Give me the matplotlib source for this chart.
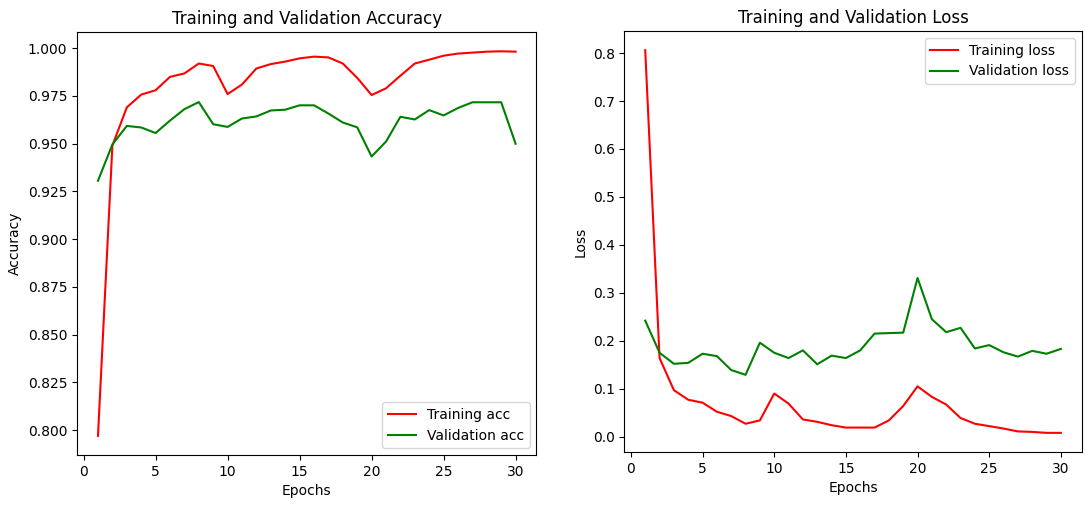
import matplotlib
matplotlib.use('Agg')
import matplotlib.pyplot as plt

# epochs 1..30
epochs = list(range(1, 31))

train_acc = [0.797, 0.949, 0.969, 0.9757, 0.978, 0.985, 0.9868, 0.992, 0.9907, 0.976,
             0.981, 0.9894, 0.9917, 0.993, 0.9947, 0.9956, 0.9952, 0.992, 0.9845, 0.9755,
             0.979, 0.9856, 0.992, 0.994, 0.9961, 0.9972, 0.9977, 0.9982, 0.9984, 0.9982]
val_acc = [0.9306, 0.9496, 0.9593, 0.9585, 0.9556, 0.9621, 0.9681, 0.9718, 0.9602, 0.9588,
           0.9632, 0.9643, 0.9674, 0.9678, 0.9701, 0.9701, 0.9658, 0.9611, 0.9586, 0.9433,
           0.9511, 0.9641, 0.9627, 0.9676, 0.9648, 0.9687, 0.9717, 0.9717, 0.9717, 0.950]

train_loss = [0.806, 0.164, 0.097, 0.077, 0.071, 0.052, 0.043, 0.027, 0.034, 0.090,
              0.069, 0.036, 0.031, 0.024, 0.019, 0.019, 0.019, 0.034, 0.064, 0.105,
              0.083, 0.067, 0.039, 0.027, 0.022, 0.017, 0.011, 0.010, 0.008, 0.008]
val_loss = [0.242, 0.175, 0.152, 0.154, 0.173, 0.168, 0.139, 0.129, 0.196, 0.175,
            0.164, 0.180, 0.151, 0.169, 0.164, 0.180, 0.215, 0.216, 0.217, 0.331,
            0.245, 0.218, 0.227, 0.184, 0.191, 0.176, 0.167, 0.179, 0.173, 0.183]

fig = plt.figure(figsize=(10.86, 5.09), dpi=100)
ax1 = fig.add_axes([0.071, 0.106, 0.423, 0.831])
ax2 = fig.add_axes([0.575, 0.112, 0.421, 0.827])

# 准确率
ax1.plot(epochs, train_acc, 'r', label='Training acc')
ax1.plot(epochs, val_acc, 'g', label='Validation acc')
ax1.set_title('Training and Validation Accuracy')
ax1.set_xlabel('Epochs')
ax1.set_ylabel('Accuracy')
ax1.legend(loc='lower right')

# 损失
ax2.plot(epochs, train_loss, 'r', label='Training loss')
ax2.plot(epochs, val_loss, 'g', label='Validation loss')
ax2.set_title('Training and Validation Loss')
ax2.set_xlabel('Epochs')
ax2.set_ylabel('Loss')
ax2.legend(loc='upper right')

fig.savefig('out.png', dpi=100, facecolor='white')
